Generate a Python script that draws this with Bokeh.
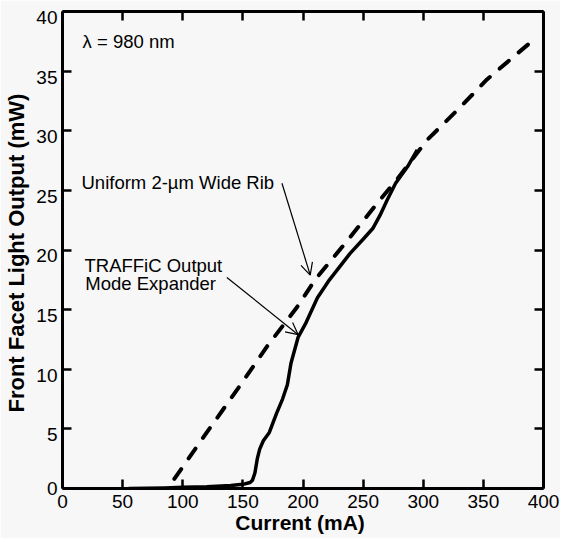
from bokeh.plotting import figure
from bokeh.models import Range1d, LinearAxis, FixedTicker, Label, Arrow, OpenHead
from bokeh.embed import file_html
from bokeh.resources import INLINE

# Data
rib_current = [93, 120, 146, 170, 195, 210, 237, 264, 278, 303, 330, 353, 375, 395]
rib_power = [0.8, 4.7, 8.4, 11.9, 15.2, 17.5, 20.8, 24.2, 25.9, 29.2, 31.9, 34.3, 36.2, 37.9]

traffic_current = [55, 70, 85, 100, 120, 140, 150, 156, 158, 160, 162, 164, 167, 172, 178, 183,
                   187, 190, 196, 202, 212, 222, 239, 250, 258, 264, 270, 277, 287, 295]
traffic_power = [0.0, 0.02, 0.05, 0.1, 0.15, 0.25, 0.35, 0.5, 0.7, 1.3, 2.5, 3.3, 4.0, 4.7, 6.3, 7.5,
                 8.7, 10.5, 12.7, 13.8, 16.0, 17.5, 19.7, 20.9, 21.8, 22.9, 24.2, 25.6, 27.0, 28.4]

x_ticks = [0, 50, 100, 150, 200, 250, 300, 350, 400]
y_ticks = [0, 5, 10, 15, 20, 25, 30, 35, 40]

x_title = "Current  (mA)"
y_title = "Front Facet Light Output  (mW)"

FONT = "Liberation Sans"
BG = "#f7f7f7"
LAB_SHIFT = 0.5  # y tick labels hang slightly below their ticks in the reference

p = figure(width=560, height=538, output_backend="svg", toolbar_location=None,
           x_range=Range1d(0, 400), y_range=Range1d(0, 40),
           x_axis_location=None, y_axis_location=None,
           min_border_left=62, min_border_right=17, min_border_top=11, min_border_bottom=50)
p.background_fill_color = BG
p.border_fill_color = BG
p.outline_line_color = None
p.xgrid.visible = False
p.ygrid.visible = False
p.extra_y_ranges = {"ylab": Range1d(start=LAB_SHIFT, end=40 + LAB_SHIFT)}


def style(ax, labels=True):
    ax.axis_line_width = 3
    ax.axis_line_color = "black"
    ax.major_tick_line_width = 2.5
    ax.major_tick_in = 9
    ax.major_tick_out = 0
    ax.minor_tick_line_color = None
    if labels:
        ax.major_label_text_font = FONT
        ax.major_label_text_font_size = "19px"
        ax.major_label_text_color = "black"
        ax.axis_label_text_font = FONT
        ax.axis_label_text_font_size = "21px"
        ax.axis_label_text_font_style = "bold"
        ax.axis_label_text_color = "black"
    else:
        ax.major_label_overrides = {t: "" for t in ax.ticker.ticks}
        ax.major_label_standoff = 0
        ax.axis_label_standoff = 0


xb = LinearAxis(ticker=FixedTicker(ticks=x_ticks), axis_label=x_title)
style(xb)
xb.major_label_standoff = 6
xb.axis_label_standoff = 0
p.add_layout(xb, "below")

# left frame line and ticks
yl = LinearAxis(ticker=FixedTicker(ticks=y_ticks))
style(yl, labels=False)
p.add_layout(yl, "left")

# left tick labels (label-only axis on the shifted range) and title
lab_ticks = [max(t, LAB_SHIFT) for t in y_ticks]
ylab = LinearAxis(ticker=FixedTicker(ticks=lab_ticks), y_range_name="ylab",
                  axis_label=y_title)
style(ylab)
ylab.major_label_overrides = {lt: str(t) for lt, t in zip(lab_ticks, y_ticks)}
ylab.axis_line_color = None
ylab.major_tick_line_color = None
ylab.major_tick_in = 0
ylab.major_label_standoff = 5
ylab.axis_label_standoff = 4
ylab.axis_label_text_font_size = "22px"
p.add_layout(ylab, "left")

xt = LinearAxis(ticker=FixedTicker(ticks=x_ticks))
style(xt, labels=False)
p.add_layout(xt, "above")

yr = LinearAxis(ticker=FixedTicker(ticks=y_ticks))
style(yr, labels=False)
p.add_layout(yr, "right")

p.line(rib_current, rib_power, line_color="black", line_width=4,
       line_dash="12 13", line_cap="round")
p.line(traffic_current, traffic_power, line_color="black", line_width=3.5, line_join="round")

ANN = "18.5px"
p.add_layout(Label(x=16.7, y=37.5, text="λ = 980 nm", text_font=FONT, text_font_size=ANN,
                   text_baseline="middle", text_color="black"))
p.add_layout(Label(x=15.8, y=25.7, text="Uniform 2-µm Wide Rib", text_font=FONT,
                   text_font_size=ANN, text_baseline="middle", text_color="black"))
p.add_layout(Label(x=18.3, y=18.7, text="TRAFFiC Output", text_font=FONT,
                   text_font_size=ANN, text_baseline="middle", text_color="black"))
p.add_layout(Label(x=19.0, y=17.2, text="Mode Expander", text_font=FONT,
                   text_font_size=ANN, text_baseline="middle", text_color="black"))

p.add_layout(Arrow(x_start=182.5, y_start=25.6, x_end=206, y_end=17.9,
                   line_width=1.2, line_color="black",
                   end=OpenHead(size=12, line_width=1.2, line_color="black")))
p.add_layout(Arrow(x_start=136.7, y_start=17.7, x_end=196, y_end=12.9,
                   line_width=1.2, line_color="black",
                   end=OpenHead(size=12, line_width=1.2, line_color="black")))

open("out.html", "w").write(file_html(p, INLINE))
